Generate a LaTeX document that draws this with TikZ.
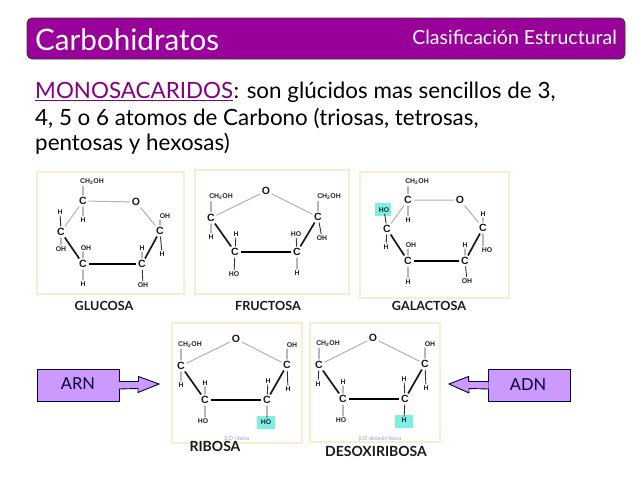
\documentclass[tikz,border=0pt]{standalone}
\usepackage{fontspec}
\setmainfont{Lato}
\newfontfamily\atomfont{Liberation Sans}[Scale=1]
\usetikzlibrary{calc}
\definecolor{headpurple}{HTML}{990099}
\definecolor{framecol}{HTML}{FBEBCF}
\definecolor{cyanbox}{HTML}{7FEFE6}
\definecolor{lav}{HTML}{CC99FF}
\definecolor{capblue}{HTML}{9C9CE6}
\tikzset{
  atom/.style={inner sep=1.1pt,font=\atomfont\bfseries\fontsize{6.9}{7}\selectfont,text=black!85},
  catom/.style={inner sep=1.6pt,font=\atomfont\bfseries\fontsize{10.5}{11}\selectfont,text=black!90},
  frm/.style={draw=framecol,line width=1.2pt,fill=white},
  back/.style={draw=black!30,line width=1pt},
  thinbond/.style={draw=black!80,line width=.9pt},
  mid/.style={draw=black!90,line width=1.7pt},
  front/.style={draw=black,line width=2.3pt},
  molname/.style={inner sep=0pt,font=\fontsize{12.6}{13}\bfseries\selectfont,text=black!90},
  molnamebig/.style={inner sep=0pt,font=\fontsize{14}{15}\bfseries\selectfont,text=black!90},
  bodytxt/.style={anchor=base west,inner sep=0pt,font=\fontsize{22.4}{24}\selectfont,text=black},
  hl/.style={fill=cyanbox,draw=none},
  lblbox/.style={draw=black!75!blue,line width=.9pt,fill=lav,minimum width=82pt,minimum height=32pt,inner sep=0pt,font=\fontsize{16.5}{18}\selectfont,text=black!80!blue},
  arrowp/.style={draw=black!75!blue,line width=.9pt,fill=lav},
  capt/.style={inner sep=0pt,font=\fontsize{5.6}{6}\selectfont,text=capblue}
}
\newcommand{\chtwo}{CH\textsubscript{2}OH}
\begin{document}
\begin{tikzpicture}[x=1pt,y=-1pt]
\useasboundingbox (0,0) rectangle (638,479);
% header
\node[draw=black!80,line width=.7pt,fill=headpurple,rounded corners=5pt,minimum width=598pt,minimum height=41pt,inner sep=0pt] (head) at (326,38.5) {};
\node[anchor=base west,inner sep=0pt,text=white,font=\fontsize{29.6}{30}\selectfont] (title) at (35,50) {Carbohidratos};
\node[anchor=base east,inner sep=0pt,text=white,font=\fontsize{19.5}{20}\selectfont] (sub) at (617,45) {Clasificación Estructural};
% text
\node[bodytxt,text=headpurple!85!black] (mono) at (35,98) {MONOSACARIDOS};
\draw[headpurple!85!black,line width=.9pt] ([yshift=-2.5pt]mono.base west) -- ([yshift=-2.5pt]mono.base east);
\node[bodytxt] (l1) at (mono.base east) {: son glúcidos mas sencillos de 3,};
\node[bodytxt] (l2) at (35,125) {4, 5 o 6 atomos de Carbono (triosas, tetrosas,};
\node[bodytxt] (l3) at (35,150) {pentosas y hexosas)};

% GLUCOSA
\draw[frm] (37,172) rectangle (184,294);
\foreach \n/\x/\y in {a/83/201,b/160/231,c/142/264,d/83/264,e/61/232}
  \node[catom] (g\n) at (\x,\y) {C};
\node[catom] (gO) at (136,202) {O};
\node[atom] (g1) at (92,182) {\chtwo};
\node[atom] (g2) at (83,220) {H};
\node[atom] (g3) at (60,212) {H};
\node[atom] (g4) at (61,249) {OH};
\node[atom] (g5) at (86,248) {OH};
\node[atom] (g6) at (83,284) {H};
\node[atom] (g7) at (142,248) {H};
\node[atom] (g8) at (143,285) {OH};
\node[atom] (g9) at (165,216) {OH};
\node[atom] (g10) at (162,254) {H};
\draw[back] (ga)--(gO) (gO)--(gb) (ga)--(ge);
\draw[mid] (ge)--(gd) (gc)--(gb);
\draw[front] (gd)--(gc);
\draw[thinbond] (ga)--(ga|-g1.south) (ga)--(g2) (ge)--(g3) (ge)--(g4) (gd)--(gd|-g5.south) (gd)--(g6) (gc)--(g7) (gc)--(g8) (gb)--(gb|-g9.south) (gb)--(g10);
\node[molname] (gn) at (104,306) {GLUCOSA};

% FRUCTOSA
\draw[frm] (195,170) rectangle (349,294);
\foreach \n/\x/\y in {a/211/218,b/235/252,c/297/252,d/318/217}
  \node[catom] (f\n) at (\x,\y) {C};
\node[catom] (fO) at (266,191) {O};
\node[atom] (f1) at (221,197) {\chtwo};
\node[atom] (f2) at (211,237) {H};
\node[atom] (f3) at (236,234) {H};
\node[atom] (f4) at (234,274) {HO};
\node[atom] (f5) at (296,234) {HO};
\node[atom] (f6) at (297,273) {H};
\node[atom] (f7) at (329,197) {\chtwo};
\node[atom] (f8) at (322,238) {OH};
\draw[back] (fa)--(fO) (fO)--(fd);
\draw[mid] (fa)--(fb) (fc)--(fd);
\draw[front] (fb)--(fc);
\draw[thinbond] (fa)--(fa|-f1.south) (fa)--(f2) (fb)--(f3) (fb)--(f4) (fc)--(f5) (fc)--(f6) (fd)--(fd|-f7.south) (fd)--(f8);
\node[molname] (fn) at (268,306) {FRUCTOSA};

% GALACTOSA
\draw[frm] (360,172) rectangle (509,298);
\fill[hl] (375,203) rectangle (391,216);
\node[catom] (ha) at (408,200) {C};
\node[catom] (hb) at (483,228) {C};
\node[catom] (hc) at (465,261) {C};
\node[catom] (hd) at (408,261) {C};
\node[catom] (he) at (387,229) {C};
\node[catom] (hO) at (460,200) {O};
\node[atom] (h1) at (417,182) {\chtwo};
\node[atom] (h2) at (408,220) {H};
\node[atom] (h3) at (384,210) {HO};
\node[atom] (h4) at (386,247) {H};
\node[atom] (h5) at (411,245) {OH};
\node[atom] (h6) at (408,282) {H};
\node[atom] (h7) at (465,245) {H};
\node[atom] (h8) at (467,281) {OH};
\node[atom] (h9) at (483,214) {H};
\node[atom] (h10) at (487,250) {HO};
\draw[back] (ha)--(hO) (hO)--(hb) (ha)--(he);
\draw[mid] (he)--(hd) (hc)--(hb);
\draw[front] (hd)--(hc);
\draw[thinbond] (ha)--(ha|-h1.south) (ha)--(h2) (he)--(h3) (he)--(h4) (hd)--(hd|-h5.south) (hd)--(h6) (hc)--(h7) (hc)--(h8) (hb)--(h9) (hb)--(hb|-h10.north);
\node[molname] (hn) at (429,306) {GALACTOSA};

% RIBOSA
\draw[frm] (172,323) rectangle (302,443);
\fill[hl] (257,416) rectangle (275,429);
\node[catom] (ra) at (181,366) {C};
\node[catom] (rb) at (205,400) {C};
\node[catom] (rc) at (267,400) {C};
\node[catom] (rd) at (287,365) {C};
\node[catom] (rO) at (236,339) {O};
\node[atom] (r1) at (190,345) {\chtwo};
\node[atom] (r2) at (181,385) {H};
\node[atom] (r3) at (205,383) {H};
\node[atom] (r4) at (203,421) {HO};
\node[atom] (r5) at (268,381) {H};
\node[atom] (r6) at (266,422) {HO};
\node[atom] (r7) at (292,345) {OH};
\node[atom] (r8) at (288,389) {H};
\draw[back] (ra)--(rO) (rO)--(rd);
\draw[mid] (ra)--(rb) (rc)--(rd);
\draw[front] (rb)--(rc);
\draw[thinbond] (ra)--(ra|-r1.south) (ra)--(r2) (rb)--(r3) (rb)--(rb|-r4.north) (rc)--(r5) (rc)--(rc|-r6.north) (rd)--(rd|-r7.south) (rd)--(r8);
\node[capt] (rcap) at (237,439) {β.D ribosa};
\node[molnamebig] (rn) at (215,446) {RIBOSA};

% DESOXIRIBOSA
\draw[frm] (310,323) rectangle (440,442);
\fill[hl] (395,415) rectangle (413,428);
\node[catom] (da) at (319,365) {C};
\node[catom] (db) at (343,399) {C};
\node[catom] (dc) at (405,399) {C};
\node[catom] (dd) at (425,364) {C};
\node[catom] (dO) at (373,338) {O};
\node[atom] (d1) at (328,344) {\chtwo};
\node[atom] (d2) at (318,384) {H};
\node[atom] (d3) at (343,382) {H};
\node[atom] (d4) at (341,420) {HO};
\node[atom] (d5) at (404,379) {H};
\node[atom] (d6) at (404,420) {H};
\node[atom] (d7) at (430,344) {OH};
\node[atom] (d8) at (426,388) {H};
\draw[back] (da)--(dO) (dO)--(dd);
\draw[mid] (da)--(db) (dc)--(dd);
\draw[front] (db)--(dc);
\draw[thinbond] (da)--(da|-d1.south) (da)--(d2) (db)--(d3) (db)--(db|-d4.north) (dc)--(d5) (dc)--(d6) (dd)--(dd|-d7.south) (dd)--(d8);
\node[capt] (dcap) at (380,439) {β.D desoxirribosa};
\node[molnamebig] (dn) at (376,451) {DESOXIRIBOSA};

% ARN / ADN
\node[lblbox] (arn) at (78,385) {\raisebox{3pt}{ARN}};
\node[lblbox] (adn) at (529.5,385) {\raisebox{-3.5pt}{\hspace{-3pt}ADN}};
\path (arn.east) ++(-.5,-3.5) coordinate (a1) ++(0,7.5) coordinate (a2);
\draw[arrowp] (a1) -- ++(19.5,0) -- ++(0,-5) -- (159,384) -- (138,392.5) -- (138,388.5) -- (a2);
\path (adn.west) ++(.5,-3.5) coordinate (b1) ++(0,7.5) coordinate (b2);
\draw[arrowp] (b1) -- ++(-20,0) -- ++(0,-5) -- (449,384) -- (469,393) -- (469,388.5) -- (b2);
\end{tikzpicture}
\end{document}
